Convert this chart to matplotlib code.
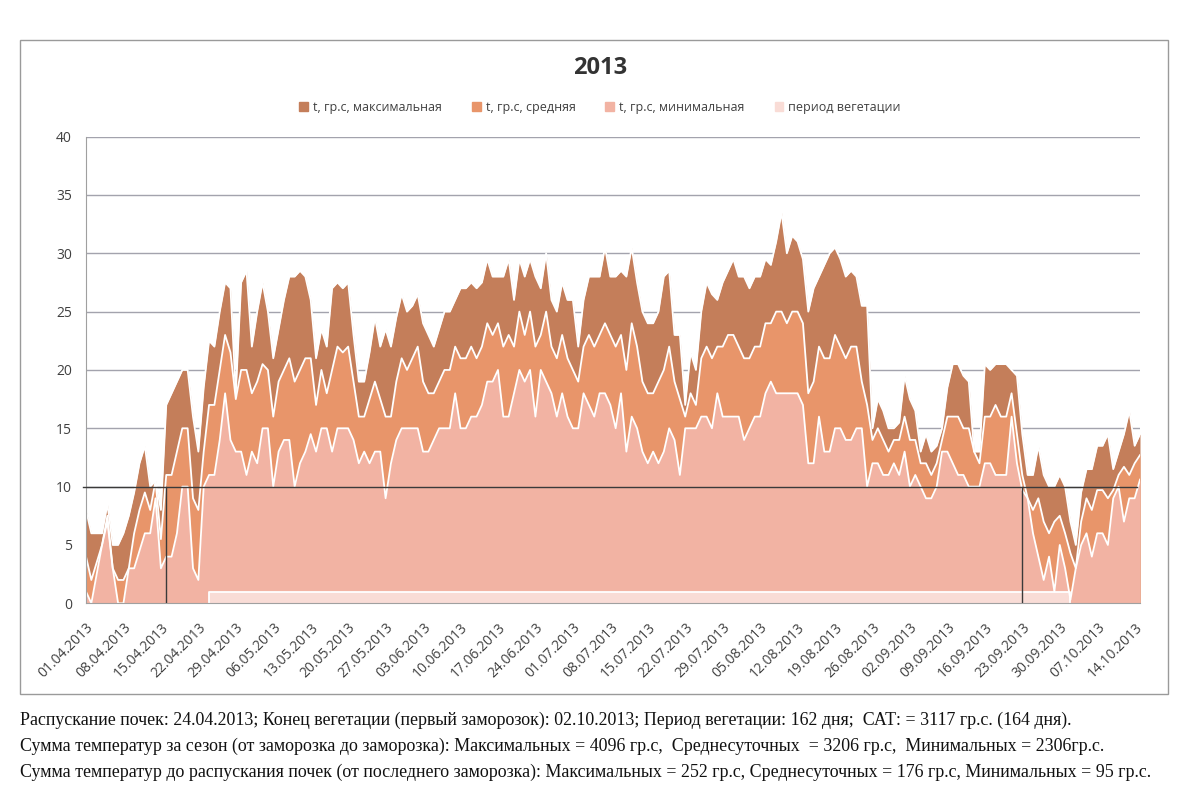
import numpy as np
import pandas as pd
import matplotlib
matplotlib.use("Agg")
import matplotlib.pyplot as plt
from matplotlib.patches import Patch, Rectangle

# daily temperatures starting 01.04.2013
start_date = "2013-04-01"
t_max = [8, 6, 6, 6, 8.5, 5, 5, 6, 7.5, 9.5,
         12, 13.5, 10, 10.5, 8, 17, 18, 19, 20, 20,
         16, 13, 18.5, 22.5, 22, 25, 27.5, 27, 18, 27.5,
         28.5, 22, 25, 27.5, 25, 21, 23.5, 26, 28, 28,
         28.5, 28, 26, 21, 23.5, 22, 27, 27.5, 27, 27.5,
         23, 19, 19, 21.5, 24.5, 22, 23.5, 22, 24.5, 26.5,
         25, 25.5, 26.5, 24, 23, 22, 23.5, 25, 25, 26,
         27, 27, 27.5, 27, 27.5, 29.5, 28, 28, 28, 29.5,
         26, 29.5, 28, 29.5, 28, 27, 30, 26, 25, 27.5,
         26, 26, 22, 26, 28, 28, 28, 30.5, 28, 28,
         28.5, 28, 30.5, 27.5, 25, 24, 24, 25, 28, 28.5,
         23, 23, 17, 21.5, 20, 25, 27.5, 26.5, 26, 27.5,
         28.5, 29.5, 28, 28, 27, 28, 28, 29.5, 29, 31,
         33.5, 30, 31.5, 31, 29.5, 25, 27, 28, 29, 30,
         30.5, 29.5, 28, 28.5, 28, 25.5, 25.5, 15, 17.5, 16.5,
         15, 15, 15.5, 19.5, 17.5, 16.5, 13, 14.5, 13, 13.5,
         15, 18.5, 20.5, 20.5, 19.5, 19, 13, 13, 20.5, 20,
         20.5, 20.5, 20.5, 20, 19.5, 14.5, 11, 11, 13.5, 11,
         10, 10, 11, 10, 7, 5, 9.5, 11.5, 11.5, 13.5,
         13.5, 14.5, 11.5, 13, 14.5, 16.5, 13.5, 14.5]
t_mean = [4, 2, 3.5, 5, 7.5, 3, 2, 2, 3, 6,
          8, 9.5, 8, 10.5, 5.5, 11, 11, 13, 15, 15,
          9, 8, 13, 17, 17, 20, 23, 21.5, 17.5, 20,
          20, 18, 19, 20.5, 20, 16, 19, 20, 21, 19,
          20, 21, 21, 17, 20, 18, 20, 22, 21.5, 22,
          19, 16, 16, 17.5, 19, 17.5, 16, 16, 19, 21,
          20, 21, 22, 19, 18, 18, 19, 20, 20, 22,
          21, 21, 22, 21, 22, 24, 23, 24, 22, 23,
          22, 25, 23, 25, 22, 23, 25, 22, 21, 23,
          21, 20, 19, 22, 23, 22, 23, 24, 23, 22,
          23, 20, 24, 22, 19, 18, 18, 19, 20, 22,
          19, 17.5, 16, 18, 17, 21, 22, 21, 22, 22,
          23, 23, 22, 21, 21, 22, 22, 24, 24, 25,
          25, 24, 25, 25, 24, 18, 19, 22, 21, 21,
          23, 22, 21, 22, 22, 19, 17, 14, 15, 14,
          13, 14, 14, 16, 14, 14, 12, 12, 11, 12,
          14, 16, 16, 16, 15, 15, 13, 12, 16, 16,
          17, 16, 16, 18, 14.5, 11, 9, 8, 9, 7,
          6, 7, 7.5, 6, 4.3, 3, 7, 9, 8, 9.7,
          9.7, 9, 9.7, 11, 11.7, 11, 12, 12.7]
t_min = [1, 0, 2.5, 5, 7, 3, 0, 0, 3, 3,
         4.5, 6, 6, 9, 3, 4, 4, 6, 10, 10,
         3, 2, 10, 11, 11, 14, 18, 14, 13, 13,
         11, 13, 12, 15, 15, 10, 13, 14, 14, 10,
         12, 13, 14.5, 13, 15, 15, 13, 15, 15, 15,
         14, 12, 13, 12, 13, 13, 9, 12, 14, 15,
         15, 15, 15, 13, 13, 14, 15, 15, 15, 18,
         15, 15, 16, 16, 17, 19, 19, 20, 16, 16,
         18, 20, 19, 20, 16, 20, 19, 18, 16, 18,
         16, 15, 15, 18, 17, 16, 18, 18, 17, 15,
         18, 13, 16, 15, 13, 12, 13, 12, 13, 15,
         14, 11, 15, 15, 15, 16, 16, 15, 18, 16,
         16, 16, 16, 14, 15, 16, 16, 18, 19, 18,
         18, 18, 18, 18, 17, 12, 12, 16, 13, 13,
         15, 15, 14, 14, 15, 15, 10, 12, 12, 11,
         11, 12, 11, 13, 10, 11, 10, 9, 9, 10,
         13, 13, 12, 11, 11, 10, 10, 10, 12, 12,
         11, 11, 11, 16, 12, 9.7, 9, 6, 4, 2,
         4, 1, 5, 3, 0.3, 3, 5, 6, 4, 6,
         6, 5, 9, 10, 7, 9, 9, 10.6]

veg_start, veg_end = "2013-04-24", "2013-10-02"
veg_level = 1
frost_marks = ["2013-04-16", "2013-09-23"]
ref_level = 10

series_names = ["t, гр.с, максимальная", "t, гр.с, средняя",
                "t, гр.с, минимальная", "период вегетации"]
chart_title = "2013"
notes = [
    "Распускание почек: 24.04.2013; Конец вегетации (первый заморозок): 02.10.2013; "
    "Период вегетации: 162 дня;  САТ: = 3117 гр.с. (164 дня).",
    "Сумма температур за сезон (от заморозка до заморозка): Максимальных = 4096 гр.с,  "
    "Среднесуточных  = 3206 гр.с,  Минимальных = 2306гр.с.",
    "Сумма температур до распускания почек (от последнего заморозка): Максимальных = 252 гр.с, "
    "Среднесуточных = 176 гр.с, Минимальных = 95 гр.с.",
]

c_max, c_mean, c_min, c_veg = "#C47E5A", "#E8956A", "#F2B3A3", "#F9DCD6"

plt.rcParams["font.family"] = ["Open Sans", "DejaVu Sans"]

dates = pd.date_range(start_date, periods=len(t_max), freq="D")
x = np.arange(len(dates))
veg_mask = (dates >= pd.Timestamp(veg_start)) & (dates <= pd.Timestamp(veg_end))
veg = np.where(veg_mask, veg_level, np.nan)

fig = plt.figure(figsize=(12, 8), dpi=100)
ax = fig.add_axes([86 / 1200, 1 - 603.3 / 800, (1140 - 86) / 1200, (603.3 - 136.6) / 800])

# areas overlap (not stacked), white edge on each
ax.fill_between(x, 0, t_max, color=c_max, lw=0, zorder=1)
ax.fill_between(x, 0, t_mean, color=c_mean, lw=0, zorder=1.1)
ax.fill_between(x, 0, t_min, color=c_min, lw=0, zorder=1.2)
ax.fill_between(x, 0, veg, where=veg_mask, color=c_veg, lw=0, zorder=1.3)
for s in (t_max, t_mean, t_min):
    ax.plot(x, s, color="white", lw=1.3, zorder=1.5)
vx = x[veg_mask]
ax.plot([vx[0], vx[0], vx[-1], vx[-1]], [0, veg_level, veg_level, 0],
        color="white", lw=1.3, zorder=1.5)

# reference lines
ax.plot([-0.6, x[-1] - 0.5], [ref_level, ref_level], color="#3a3a3a", lw=1,
        zorder=5, clip_on=False)
for d in frost_marks:
    xi = (pd.Timestamp(d) - dates[0]).days
    ax.plot([xi, xi], [0, ref_level], color="#3a3a3a", lw=1, zorder=5)

ax.set_xlim(0, x[-1])
ax.set_ylim(0, 40)
ax.set_yticks(np.arange(0, 41, 5))
ax.yaxis.grid(True, color="#A3A3AD", lw=1)
ax.set_axisbelow(True)
tick_pos = x[::7]
ax.set_xticks(tick_pos)
ax.set_xticklabels([dates[i].strftime("%d.%m.%Y") for i in tick_pos],
                   rotation=45, ha="right", va="top", rotation_mode="anchor")
ax.tick_params(axis="both", length=0, labelsize=10, colors="#404040")
ax.tick_params(axis="x", pad=12)
ax.tick_params(axis="y", pad=10)
for side in ("top", "right"):
    ax.spines[side].set_visible(False)
for side in ("left", "bottom"):
    ax.spines[side].set_color("#A0A0A0")

fig.text(0.5, 1 - 68 / 800, chart_title, ha="center", va="center",
         fontsize=17, fontweight="bold", color="#333333")
handles = [Patch(color=c) for c in (c_max, c_mean, c_min, c_veg)]
fig.legend(handles, series_names, loc="center", bbox_to_anchor=(0.5, 1 - 107 / 800),
           ncol=4, frameon=False, fontsize=9, handlelength=0.7, handleheight=0.7,
           handletextpad=0.4, columnspacing=2.4, labelcolor="#404040")

fig.patches.append(Rectangle((20 / 1200, 1 - 694 / 800), 1148 / 1200, 654 / 800,
                             transform=fig.transFigure, fill=False, ec="#9A9A9A", lw=1))

for i, line in enumerate(notes):
    fig.text(20 / 1200, 1 - (720 + 26 * i) / 800, line, ha="left", va="center",
             fontsize=12.9, family="Liberation Serif", color="#111111")

fig.savefig("out.png", dpi=100)
